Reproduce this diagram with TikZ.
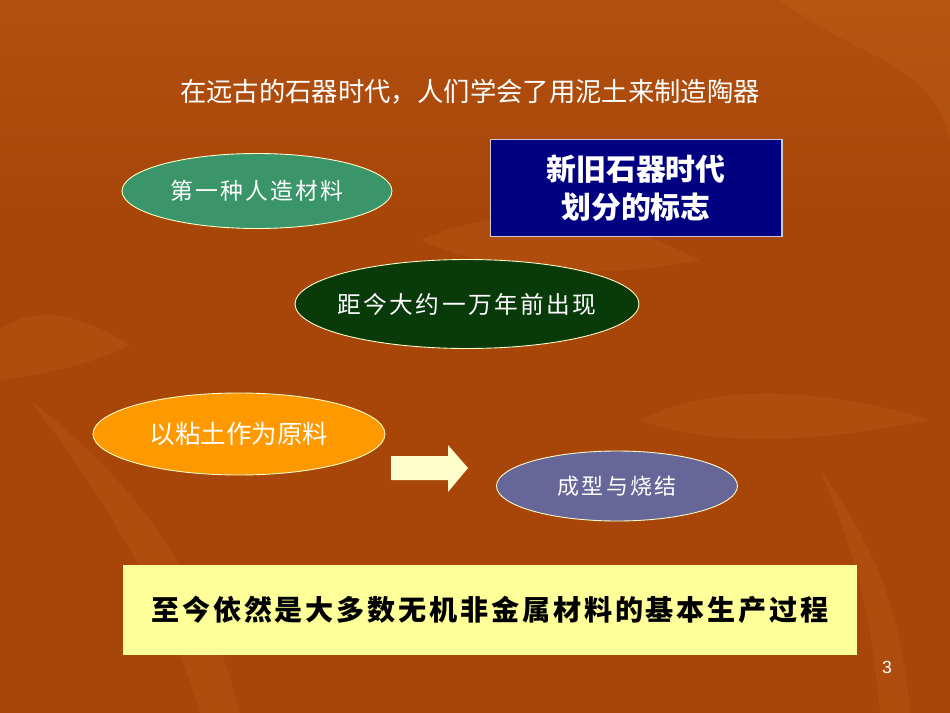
\documentclass[tikz,border=0pt]{standalone}
\usepackage{fontspec}
\setmainfont{Liberation Sans}
\newfontfamily\cjk{Noto Sans CJK SC}
\newfontfamily\cjkwide{Noto Sans CJK SC}[LetterSpace=10]
\usepackage{tikz}
\usetikzlibrary{shapes.geometric}

\definecolor{bgtop}{RGB}{192,96,22}
\definecolor{bgmid}{RGB}{168,70,10}
\definecolor{bgbot}{RGB}{90,34,8}
\definecolor{leafc}{RGB}{225,130,50}
\definecolor{firstgreen}{RGB}{58,150,106}
\definecolor{markblue}{RGB}{0,0,128}
\definecolor{agegreen}{RGB}{8,58,10}
\definecolor{clayorange}{RGB}{255,153,0}
\definecolor{firepurple}{RGB}{102,102,153}
\definecolor{notepale}{RGB}{255,255,153}
\definecolor{arrowpale}{RGB}{255,255,204}

\pgfdeclareverticalshading{slidebg}{100bp}{
  color(0bp)=(bgbot); color(10bp)=(bgmid); color(60bp)=(bgmid); color(100bp)=(bgtop)}

\begin{document}
\begin{tikzpicture}[
  x=0.02cm, y=-0.02cm,
  oval/.style={ellipse, draw=arrowpale, line width=0.5pt, text=white, inner xsep=-2mm, inner ysep=0pt},
  panel/.style={rectangle, inner sep=0pt},
  leaf/.style={fill=leafc, opacity=0.13}
]
% background
\fill[shading=slidebg] (0,0) rectangle (950,713);
\useasboundingbox (0,0) rectangle (950,713);
\fill[leaf] (780,0) .. controls (860,60) and (930,60) .. (950,140) -- (950,0) -- cycle;
\fill[leaf] (0,330) .. controls (40,300) and (90,320) .. (130,345) .. controls (80,370) and (30,375) .. (0,380) -- cycle;
\fill[leaf] (30,400) .. controls (120,470) and (200,560) .. (240,713) -- (200,713) .. controls (160,580) and (90,480) .. (30,400);
\fill[leaf] (640,420) .. controls (720,380) and (830,390) .. (930,420) .. controls (830,440) and (720,450) .. (640,420);
\fill[leaf] (420,240) .. controls (520,200) and (600,210) .. (700,260) .. controls (600,280) and (500,275) .. (420,240);
\fill[leaf] (820,470) .. controls (870,540) and (900,600) .. (910,713) -- (880,713) .. controls (870,600) and (850,540) .. (820,470);

% title
\node[text=white, font=\cjk\fontsize{15pt}{18pt}\selectfont] (title) at (470,92)
  {在远古的石器时代，人们学会了用泥土来制造陶器};

% upper group
\node[oval, fill=firstgreen, minimum width=5.4cm, minimum height=1.5cm,
  font=\cjkwide\fontsize{13pt}{15pt}\selectfont] (first) at (257,191) {第一种人造材料};
\node[panel, fill=markblue, draw=gray!40, line width=0.6pt, minimum width=5.84cm, minimum height=1.94cm,
  text=white, align=center, font=\cjk\bfseries\fontsize{17pt}{22pt}\selectfont] (mark) at (636,188)
  {新旧石器时代\\划分的标志};
\node[oval, fill=agegreen, minimum width=6.88cm, minimum height=1.78cm,
  font=\cjkwide\fontsize{13.5pt}{16pt}\selectfont] (age) at (467,304) {距今大约一万年前出现};

% process
\node[oval, fill=clayorange, minimum width=5.84cm, minimum height=1.64cm,
  font=\cjk\fontsize{14.5pt}{17pt}\selectfont] (clay) at (239,434) {以粘土作为原料};
\node[oval, fill=firepurple, minimum width=4.82cm, minimum height=1.4cm,
  font=\cjkwide\fontsize{12.5pt}{14pt}\selectfont] (fire) at (617,486) {成型与烧结};
\fill[arrowpale] (391,456) -- (448,456) -- (448,445) -- (468,468) -- (448,492) -- (448,480)
  -- (391,480) -- cycle;

% note
\node[panel, fill=notepale, minimum width=14.68cm, minimum height=1.82cm,
  font=\cjkwide\bfseries\fontsize{16pt}{18pt}\selectfont] (note) at (490,610)
  {至今依然是大多数无机非金属材料的基本生产过程};

\node[text=white, font=\fontsize{10pt}{12pt}\selectfont] (page) at (887,667) {3};
\end{tikzpicture}
\end{document}
